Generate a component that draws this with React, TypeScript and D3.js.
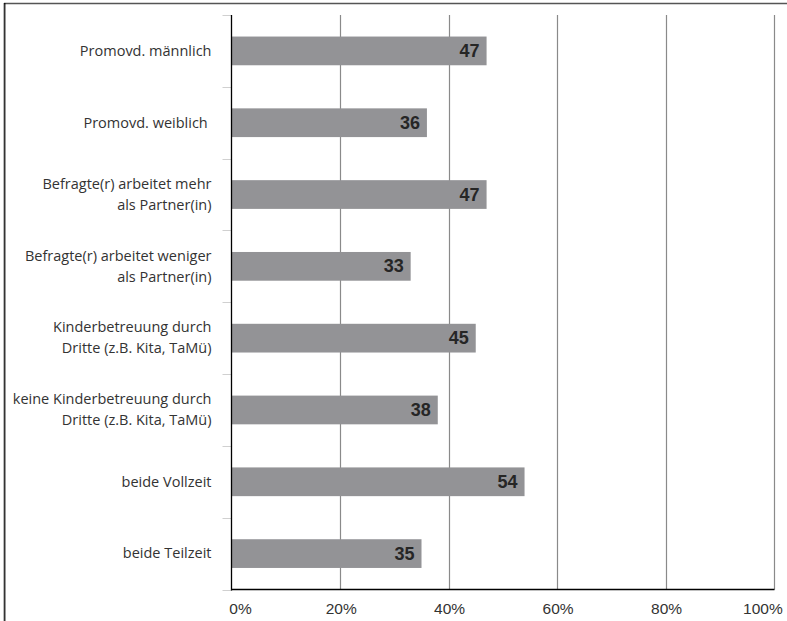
import React from "react";
import * as d3 from "d3";

const categories: string[][] = [
  ["Promovd. männlich"],
  ["Promovd. weiblich "],
  ["Befragte(r) arbeitet mehr", "als Partner(in)"],
  ["Befragte(r) arbeitet weniger", "als Partner(in)"],
  ["Kinderbetreuung durch", "Dritte (z.B. Kita, TaMü)"],
  ["keine Kinderbetreuung durch", "Dritte (z.B. Kita, TaMü)"],
  ["beide Vollzeit"],
  ["beide Teilzeit"],
];
const values: number[] = [47, 36, 47, 33, 45, 38, 54, 35];
const xTicks: number[] = [0, 20, 40, 60, 80, 100];

const W = 787;
const H = 621;

export default function App() {
  const x = d3.scaleLinear().domain([0, 100]).range([231.7, 774]);
  const keys = categories.map((_, i) => String(i));
  const y = d3
    .scaleBand<string>()
    .domain(keys)
    .range([15, 589.5])
    .paddingInner(0.6)
    .paddingOuter(0.3);
  const step = y.step();
  const top = 15;
  const bottom = 589.5;
  const boundaries = d3.range(categories.length + 1).map((i) => top + i * step);
  const labelFont = "'Open Sans', 'Noto Sans', sans-serif";
  const numFont = "'Liberation Sans', Arial, sans-serif";

  return (
    <div style={{ position: "absolute", left: 0, top: 0 }}>
      <svg width={W} height={H} style={{ display: "block", background: "#fff" }}>
        <rect x={0} y={0} width={W} height={H} fill="#fff" />
        {/* frame */}
        <line x1={4} x2={W} y1={3.5} y2={3.5} stroke="#555" strokeWidth={1.6} />
        <line x1={3.5} x2={3.5} y1={3} y2={H} stroke="#bbb" strokeWidth={1} />
        <line x1={4.8} x2={4.8} y1={3} y2={H} stroke="#000" strokeWidth={1.2} />

        {/* gridlines */}
        {xTicks.slice(1).map((t) => (
          <line
            key={"g" + t}
            x1={Math.round(x(t)) + 0.5}
            x2={Math.round(x(t)) + 0.5}
            y1={top}
            y2={bottom}
            stroke="#8a8a8a"
            strokeWidth={1.2}
          />
        ))}

        {/* category ticks */}
        {boundaries.map((b, i) => (
          <line
            key={"t" + i}
            x1={222.5}
            x2={231.5}
            y1={Math.round(b) + 0.5}
            y2={Math.round(b) + 0.5}
            stroke="#d0d0d0"
            strokeWidth={1}
          />
        ))}

        {/* bars */}
        {values.map((v, i) => (
          <rect
            key={"b" + i}
            x={x(0)}
            y={y(keys[i])!}
            width={x(v) - x(0)}
            height={y.bandwidth()}
            fill="#939396"
          />
        ))}

        {/* value labels */}
        {values.map((v, i) => (
          <text
            key={"v" + i}
            x={x(v) - 7}
            y={y(keys[i])! + y.bandwidth() / 2 + 6}
            textAnchor="end"
            fontFamily={numFont}
            fontWeight="bold"
            fontSize={18}
            fill="#262626"
          >
            {v}
          </text>
        ))}

        {/* axes */}
        <line x1={231.5} x2={231.5} y1={top} y2={bottom + 1} stroke="#000" strokeWidth={1.3} />
        <line x1={231} x2={774.5} y1={bottom} y2={bottom} stroke="#000" strokeWidth={1.3} />

        {/* category labels */}
        {categories.map((lines, i) => {
          const cy = y(keys[i])! + y.bandwidth() / 2;
          const lh = 21;
          const startY = cy + 4.8 - ((lines.length - 1) * lh) / 2;
          return (
            <text
              key={"c" + i}
              textAnchor="end"
              fontFamily={labelFont}
              fontSize={14.5}
              fill="#333"
              style={{ whiteSpace: "pre" }}
            >
              {lines.map((l, j) => (
                <tspan key={j} x={211.5} y={startY + j * lh}>
                  {l}
                </tspan>
              ))}
            </text>
          );
        })}

        {/* x tick labels */}
        {xTicks.map((t, i) => {
          const anchor = i === 0 ? "start" : i === xTicks.length - 1 ? "end" : "middle";
          const xx = i === 0 ? x(t) - 2.4 : i === xTicks.length - 1 ? x(t) + 8.7 : x(t) + 1;
          return (
            <text
              key={"x" + t}
              x={xx}
              y={613.5}
              textAnchor={anchor}
              fontFamily={numFont}
              fontSize={15.5}
              fill="#333"
            >
              {t + "%"}
            </text>
          );
        })}
      </svg>
    </div>
  );
}
